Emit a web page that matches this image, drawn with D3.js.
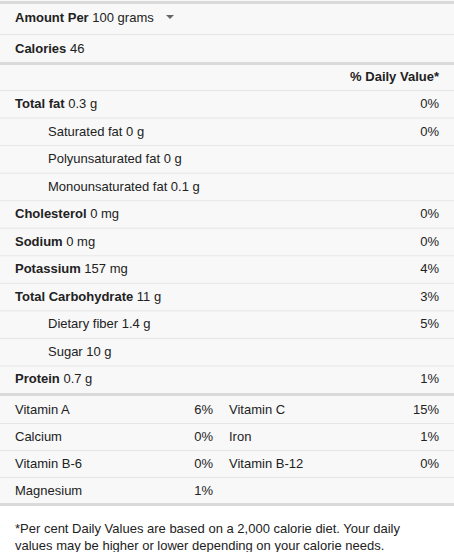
<!DOCTYPE html>
<html><head><meta charset="utf-8">
<script src="https://cdn.jsdelivr.net/npm/d3@7"></script>
<style>body{margin:0;background:#fff;font-family:"Liberation Sans",Arial,sans-serif;}</style>
</head><body><svg id="c" width="454" height="552"></svg>
<script>
// nutrient rows: label, amount, daily value, indented
const nutrients = ["Total fat","Saturated fat","Polyunsaturated fat","Monounsaturated fat","Cholesterol","Sodium","Potassium","Total Carbohydrate","Dietary fiber","Sugar","Protein"];
const amounts = ["0.3 g","0 g","0 g","0.1 g","0 mg","0 mg","157 mg","11 g","1.4 g","10 g","0.7 g"];
const dailyValues = ["0%","0%","","","0%","0%","4%","3%","5%","","1%"];
const indented = [false,true,true,true,false,false,false,false,true,true,false];
// vitamins: two columns
const vitaminsLeft = ["Vitamin A","Calcium","Vitamin B-6","Magnesium"];
const vitaminsLeftPct = ["6%","0%","0%","1%"];
const vitaminsRight = ["Vitamin C","Iron","Vitamin B-12",""];
const vitaminsRightPct = ["15%","1%","0%",""];

const svg = d3.select("#c");
const W = 454, L = 15, R = 439;
svg.append("rect").attr("x",0).attr("y",0).attr("width",W).attr("height",505).attr("fill","#f8f8f8");

function text(x,y,parts,anchor){
  const t = svg.append("text").attr("x",x).attr("y",y).attr("font-size",13).attr("fill","#222")
    .attr("text-anchor",anchor||"start");
  parts.forEach(p=>t.append("tspan").attr("font-weight",p[1]?"bold":"normal").text(p[0]));
  return t;
}
function line(y,thick){
  svg.append("rect").attr("x",0).attr("y",y).attr("width",W).attr("height",thick?3:1)
    .attr("fill",thick?"#dadada":"#e6e6e6");
}

line(1,true);
text(L,22,[["Amount Per ",true],["100 grams",false]]);
svg.append("path").attr("d","M166,15 l8,0 l-4,4 z").attr("fill","#666");
line(34,false);
text(L,53,[["Calories ",true],["46",false]]);
line(62,true);
text(R,81,[["% Daily Value*",true]],"end");

const y = d3.scaleLinear().domain([0,nutrients.length]).range([90,393]);
nutrients.forEach((n,i)=>{
  line(y(i),false);
  const ty = y(i)+18;
  if(indented[i]) text(48,ty,[[n+" "+amounts[i],false]]);
  else text(L,ty,[[n+" ",true],[amounts[i],false]]);
  if(dailyValues[i]) text(R,ty,[[dailyValues[i],false]],"end");
});
line(393,true);

const yv = d3.scaleLinear().domain([0,vitaminsLeft.length]).range([396,504]);
vitaminsLeft.forEach((v,i)=>{
  if(i>0) line(yv(i),false);
  const ty = yv(i)+18;
  text(L,ty,[[v,false]]);
  text(213,ty,[[vitaminsLeftPct[i],false]],"end");
  if(vitaminsRight[i]) text(229,ty,[[vitaminsRight[i],false]]);
  if(vitaminsRightPct[i]) text(R,ty,[[vitaminsRightPct[i],false]],"end");
});
line(503,true);

text(L,533,[["*Per cent Daily Values are based on a 2,000 calorie diet. Your daily",false]]);
text(L,550,[["values may be higher or lower depending on your calorie needs.",false]]);
</script></body></html>
